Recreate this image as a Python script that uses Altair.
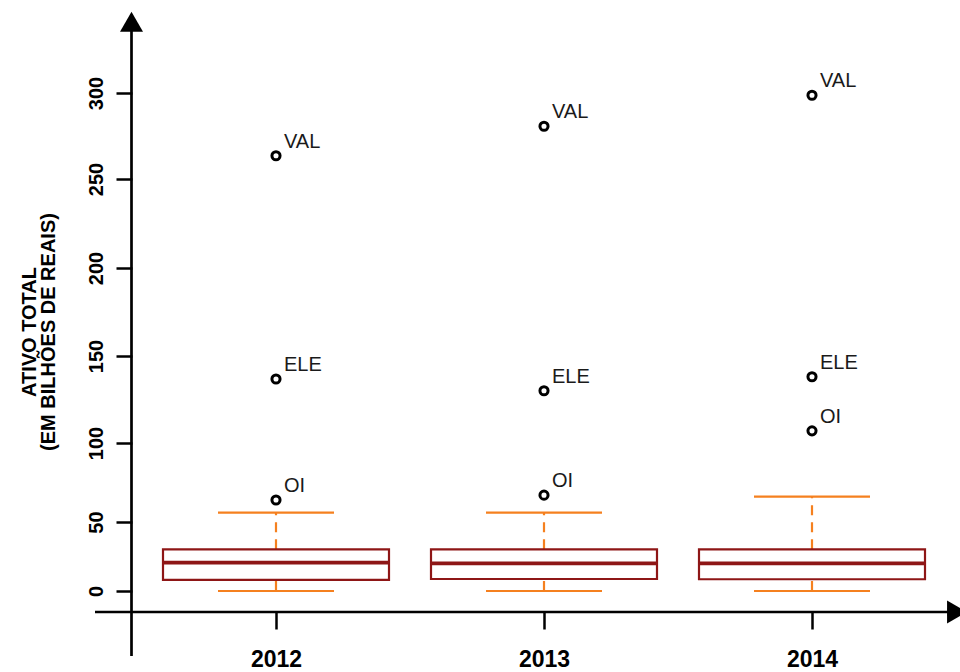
import altair as alt
import pandas as pd

# Box-plot summaries per year (billions of reais)
years = [2012, 2013, 2014]
lower = [0.0, 0.0, 0.0]
q1 = [8.0, 8.7, 8.5]
median = [20.5, 20.0, 20.0]
q3 = [30.2, 30.2, 30.2]
upper = [55.9, 55.9, 66.0]

# Outlying companies
out_year = [2012, 2012, 2012, 2013, 2013, 2013, 2014, 2014, 2014]
out_label = ["VAL", "ELE", "OI", "VAL", "ELE", "OI", "VAL", "ELE", "OI"]
out_value = [263.5, 136.8, 63.9, 280.7, 130.0, 67.0, 298.7, 138.1, 107.0]

y_ticks = [0, 50, 100, 150, 200, 250, 300]
y_pixels = [591, 522, 443, 356, 268, 179, 93]  # piecewise axis stretch

boxes = pd.DataFrame({"year": years, "lower": lower, "q1": q1,
                      "median": median, "q3": q3, "upper": upper})
outliers = pd.DataFrame({"year": out_year, "label": out_label, "value": out_value})
one = pd.DataFrame({"k": [0]})

FONT = "Liberation Sans"
DARK_RED = "#8e1616"
ORANGE = "#f5801f"

x_scale = alt.Scale(type="point", domain=years, range=[144, 680], padding=0)
y_scale = alt.Scale(domain=y_ticks, range=y_pixels, nice=False, zero=False, padding=0)

x_axis = alt.Axis(domain=False, grid=False, title=None, labelAngle=0,
                  tickSize=17, tickWidth=2.5, tickColor="black",
                  labelFontSize=23, labelFontWeight="bold", labelFont=FONT,
                  labelColor="black", labelPadding=19, labelOverlap=False)
y_axis = alt.Axis(values=y_ticks, domain=False, grid=False, title=None,
                  tickSize=16, tickWidth=2.5, tickColor="black",
                  labelAngle=-90, labelAlign="center", labelBaseline="alphabetic",
                  labelFontSize=20, labelFontWeight="bold", labelFont=FONT,
                  labelColor="black", labelPadding=14, labelOverlap=False)

base = alt.Chart(boxes)
X = alt.X("year:O", scale=x_scale, axis=x_axis)

upper_whisker = base.mark_rule(color=ORANGE, strokeWidth=2.2, strokeDash=[10, 7]).encode(
    x=X, y=alt.Y("q3:Q", scale=y_scale, axis=y_axis), y2="upper:Q")
lower_whisker = base.mark_rule(color=ORANGE, strokeWidth=2.2, strokeDash=[10, 7]).encode(
    x="year:O", y=alt.Y("lower:Q", scale=y_scale), y2="q1:Q")
caps_hi = base.mark_tick(color=ORANGE, orient="horizontal", size=116, thickness=2.2,
                         opacity=1).encode(
    x="year:O", y=alt.Y("upper:Q", scale=y_scale))
caps_lo = base.mark_tick(color=ORANGE, orient="horizontal", size=116, thickness=2.2,
                         opacity=1).encode(
    x="year:O", y=alt.Y("lower:Q", scale=y_scale))
box = base.mark_bar(width=226, fill="white", stroke=DARK_RED, strokeWidth=2.2,
                    opacity=1).encode(
    x="year:O", y=alt.Y("q1:Q", scale=y_scale), y2="q3:Q")
med = base.mark_tick(color=DARK_RED, orient="horizontal", size=228, thickness=3.8,
                     opacity=1).encode(
    x="year:O", y=alt.Y("median:Q", scale=y_scale))

pts = alt.Chart(outliers).mark_point(shape="circle", filled=False, color="black",
                                     size=66, strokeWidth=3, opacity=1).encode(
    x="year:O", y=alt.Y("value:Q", scale=y_scale))
labels = alt.Chart(outliers).mark_text(align="left", baseline="alphabetic", dx=8, dy=-8,
                                       fontSize=20, font=FONT, color="#1a1a1a").encode(
    x="year:O", y=alt.Y("value:Q", scale=y_scale), text="label:N")

# Hand-drawn axis lines with arrow heads
y_line = alt.Chart(one).mark_rule(color="black", strokeWidth=2.7).encode(
    x=alt.value(-0.5), y=alt.value(25), y2=alt.value(656))
x_line = alt.Chart(one).mark_rule(color="black", strokeWidth=2.7).encode(
    x=alt.value(-37), x2=alt.value(820), y=alt.value(612))
up_arrow = alt.Chart(one).mark_point(shape="triangle-up", filled=True, color="black",
                                     size=529, opacity=1).encode(
    x=alt.value(-0.5), y=alt.value(21.7))
right_arrow = alt.Chart(one).mark_point(shape="triangle-right", filled=True, color="black",
                                        size=529, opacity=1).encode(
    x=alt.value(825), y=alt.value(612))
title = alt.Chart(one).mark_text(angle=270, align="center", baseline="alphabetic",
                                 fontSize=20, fontWeight="bold", font=FONT, color="black",
                                 lineHeight=19).encode(
    x=alt.value(-96), y=alt.value(332),
    text=alt.value(["ATIVO TOTAL", "(EM BILHÕES DE REAIS)"]))

chart = alt.layer(
    upper_whisker, lower_whisker, caps_hi, caps_lo, box, med, pts, labels,
    y_line, x_line, up_arrow, right_arrow, title
).properties(
    width=828, height=612,
    padding={"left": 132, "top": 0, "right": 0, "bottom": 60},
    autosize=alt.AutoSizeParams(type="none"),
    background="white",
).configure_view(stroke=None)

chart.save("out.html", embed_options={"renderer": "svg", "actions": False})
